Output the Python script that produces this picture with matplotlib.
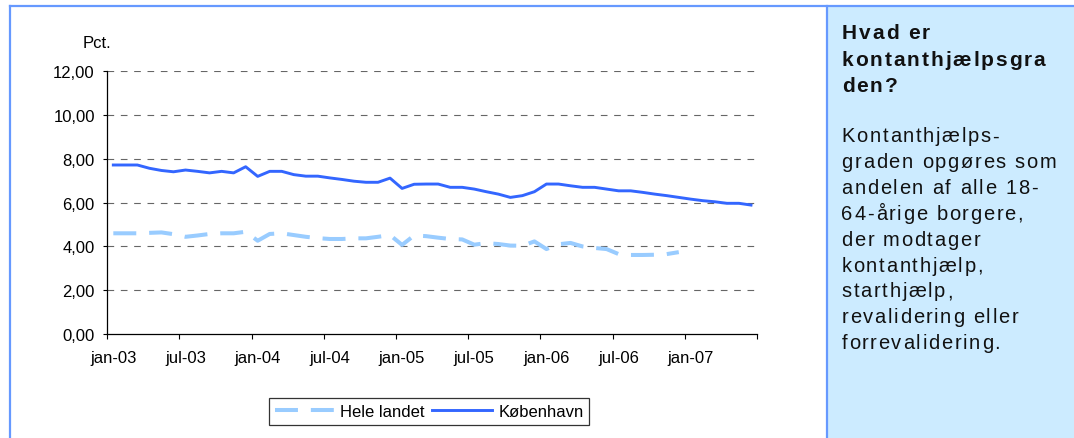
import numpy as np
import matplotlib
matplotlib.use("Agg")
import matplotlib.pyplot as plt
from matplotlib.lines import Line2D
from matplotlib.patches import Rectangle
from matplotlib.font_manager import FontProperties, findfont, get_font

# Kontanthjælpsgrad pr. måned, jan-03 .. jun-07 (pct.)
koebenhavn = [7.72, 7.72, 7.72, 7.57, 7.47, 7.41, 7.49, 7.43, 7.36, 7.43,
              7.36, 7.64, 7.20, 7.43, 7.43, 7.28, 7.21, 7.21, 7.13, 7.06,
              6.98, 6.93, 6.93, 7.12, 6.65, 6.84, 6.85, 6.85, 6.70, 6.70,
              6.62, 6.50, 6.39, 6.24, 6.32, 6.50, 6.85, 6.85, 6.77, 6.70,
              6.70, 6.62, 6.54, 6.54, 6.47, 6.39, 6.32, 6.24, 6.16, 6.09,
              6.04, 5.97, 5.97, 5.89]
# hele landet stopper i dec-06
hele_landet = [4.60, 4.60, 4.60, 4.62, 4.64, 4.56, 4.44, 4.50, 4.57, 4.60,
               4.60, 4.67, 4.26, 4.57, 4.60, 4.52, 4.44, 4.38, 4.34, 4.34,
               4.37, 4.37, 4.44, 4.52, 4.07, 4.50, 4.47, 4.40, 4.34, 4.32,
               4.08, 4.15, 4.11, 4.04, 4.03, 4.23, 3.88, 4.10, 4.16, 4.00,
               3.93, 3.88, 3.65, 3.61, 3.61, 3.62, 3.65, 3.74]
tick_labels = ["jan-03", "jul-03", "jan-04", "jul-04", "jan-05",
               "jul-05", "jan-06", "jul-06", "jan-07"]
y_ticks = [0, 2, 4, 6, 8, 10, 12]

sidebar_title = ["Hvad er", "kontanthjælpsgra", "den?"]
sidebar_body = ["Kontanthjælps-", "graden opgøres som", "andelen af alle 18-",
                "64-årige borgere,", "der modtager", "kontanthjælp,",
                "starthjælp,", "revalidering eller", "forrevalidering."]

W, H = 1074, 439
plt.rcParams["font.family"] = ["Liberation Sans", "DejaVu Sans"]

fig = plt.figure(figsize=(W / 100, H / 100), dpi=100)
frame_blue = "#6699FF"

# sidebar + ramme
fig.add_artist(Rectangle((826.7 / W, 0), (W - 826.7) / W, 1 - 7.3 / H,
                         transform=fig.transFigure, facecolor="#CCEBFF",
                         edgecolor="none", zorder=0))
fig.add_artist(Line2D([10 / W, 1], [1 - 7.3 / H] * 2, transform=fig.transFigure,
                      color=frame_blue, lw=1.6))
fig.add_artist(Line2D([10 / W] * 2, [0, 1 - 7.3 / H], transform=fig.transFigure,
                      color=frame_blue, lw=1.6))
fig.add_artist(Line2D([826.7 / W] * 2, [0, 1 - 7.3 / H], transform=fig.transFigure,
                      color=frame_blue, lw=1.6))

# plot area in pixels: x 107.3..757, y 72.3..335
ax = fig.add_axes([107.3 / W, 1 - 335 / H, (757 - 107.3) / W, (335 - 72.3) / H])
x_k = np.arange(len(koebenhavn))
x_h = np.arange(len(hele_landet))
ax.plot(x_h, hele_landet, color="#99CCFF", lw=2.9, dashes=(5.7, 3.2),
        solid_capstyle="butt", dash_capstyle="butt", label="Hele landet", zorder=3)
ax.plot(x_k, koebenhavn, color="#3366FF", lw=2.1, label="København", zorder=4)

ax.set_xlim(-0.5, len(koebenhavn) - 0.5)
ax.set_ylim(0, 12)
ax.set_yticks(y_ticks)
ax.set_yticklabels([f"{v:.2f}".replace(".", ",") for v in y_ticks])
for v in y_ticks[1:]:
    ax.axhline(v, color="#666666", lw=0.8, dashes=(6, 6), zorder=1)

ax.set_xticks(np.arange(-0.5, len(koebenhavn), 6))
ax.set_xticklabels([])
ax.set_xticks(np.arange(0, 6 * len(tick_labels), 6), minor=True)
ax.set_xticklabels(tick_labels, minor=True)
ax.tick_params(axis="x", which="major", length=3.6, width=0.8, direction="out")
ax.tick_params(axis="x", which="minor", length=0, pad=11.5, labelsize=12)
ax.tick_params(axis="y", length=3, width=0.8, pad=6, labelsize=12)
for s in ["top", "right"]:
    ax.spines[s].set_visible(False)
for s in ["left", "bottom"]:
    ax.spines[s].set_linewidth(0.9)

fig.text(96.5 / W, 1 - 44 / H, "Pct.", ha="center", va="center", fontsize=12)

leg = ax.legend(loc="center", bbox_to_anchor=(429 / W, 1 - 412.5 / H),
                bbox_transform=fig.transFigure, ncol=2, fontsize=12,
                frameon=True, fancybox=False, edgecolor="black",
                handlelength=3.6, handletextpad=0.35, columnspacing=0.45,
                borderpad=0.35, borderaxespad=0)
leg.get_frame().set_linewidth(0.9)


def spaced(x_px, y_px, s, size, weight="normal", gap=2.0):
    fp = FontProperties(family="Liberation Sans", size=size, weight=weight)
    font = get_font(findfont(fp))
    font.set_size(size, 100)
    x = x_px
    for ch in s:
        fig.text(x / W, 1 - y_px / H, ch, fontproperties=fp, ha="left",
                 va="baseline", color="#111111")
        x += font.load_char(ord(ch)).linearHoriAdvance / 65536 + gap


for i, line in enumerate(sidebar_title):
    spaced(841.7, 39.3 + 26.2 * i, line, 15, "bold", 1.9)
for i, line in enumerate(sidebar_body):
    spaced(841.5, 142.5 + 25.8 * i, line, 14.5, "normal", 1.7)

fig.savefig("out.png", dpi=100)
